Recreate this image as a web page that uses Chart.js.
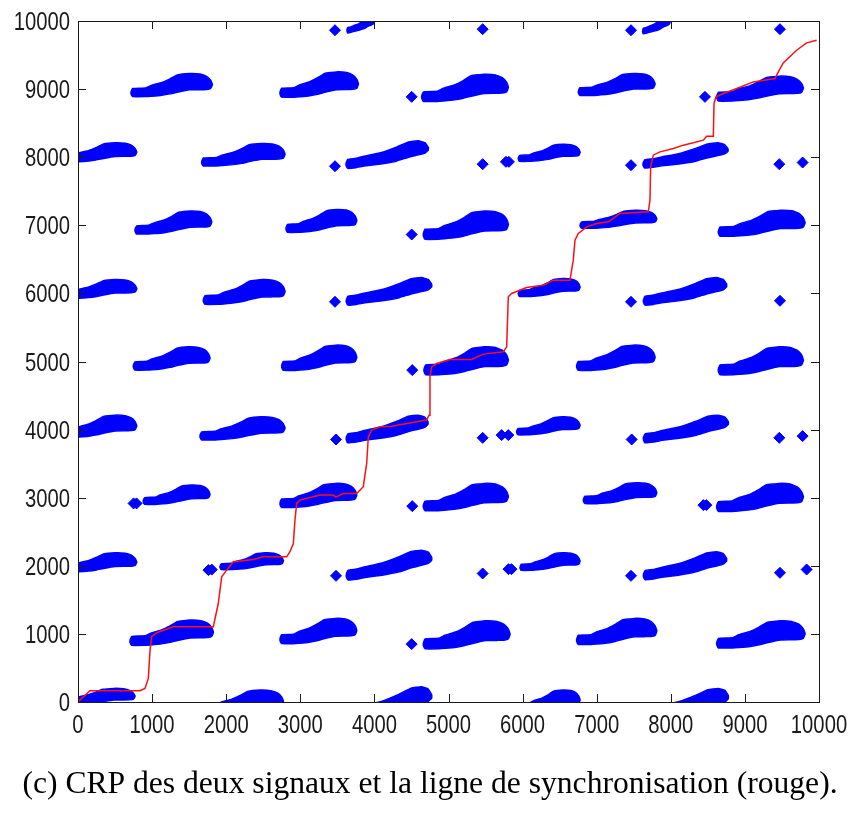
<!DOCTYPE html>
<html>
<head>
<meta charset="utf-8">
<title>CRP et ligne de synchronisation</title>
<script src="https://cdn.jsdelivr.net/npm/chart.js@4.4.1/dist/chart.umd.min.js"></script>
<style>
  html, body { margin: 0; padding: 0; background: #fff; }
  #wrap { width: 853px; height: 820px; }
</style>
</head>
<body>
<div id="wrap"><canvas id="crpChart"></canvas></div>
<script>
// tick values, same on both axes
const tickValues = [0, 1000, 2000, 3000, 4000, 5000, 6000, 7000, 8000, 9000, 10000];

// streak shapes: position along the streak (0..1), upper and lower edge
// as a fraction of the streak's rise above its starting value
// "hump": rises, peaks around 3/4 and tapers off
const humpT     = [0,     0.02,  0.18, 0.25,  0.38,  0.48,  0.57, 0.72, 0.85, 0.93, 0.98, 1.0];
const humpUpper = [0.05,  0.22,  0.25, 0.38,  0.53,  0.72,  0.93, 1.0,  0.97, 0.85, 0.65, 0.45];
const humpLower = [-0.05, -0.2,  -0.2, -0.18, -0.13, -0.06, 0.03, 0.15, 0.16, 0.17, 0.22, 0.4];
// "ramp": keeps rising and ends blunt
const rampT     = [0,     0.02,  0.12,  0.22,  0.42, 0.62, 0.76, 0.88, 0.96, 1.0];
const rampUpper = [0.05,  0.2,   0.25,  0.34,  0.49, 0.74, 0.95, 1.0,  0.92, 0.72];
const rampLower = [-0.05, -0.18, -0.15, -0.08, 0.01, 0.14, 0.3,  0.4,  0.48, 0.6];

// streaks of each band: [xStart, yStart, xEnd, yTop, shape]
const row0 = [[-250, 0, 769, 201, 'h'], [1650, -110, 2771, 176, 'h'], [3620, -190, 4773, 225, 'r'], [5942, -75, 6775, 176, 'h'], [7630, -178, 8776, 201, 'r']];
const row1000 = [[702, 895, 1826, 1204, 'h'], [2726, 920, 3761, 1229, 'h'], [4660, 851, 5830, 1194, 'h'], [6729, 910, 7810, 1229, 'h'], [8619, 861, 9811, 1194, 'h']];
const row2000 = [[-250, 1955, 792, 2192, 'h'], [1916, 1986, 2771, 2192, 'h'], [3620, 1860, 4773, 2231, 'r'], [5965, 1977, 6775, 2192, 'h'], [7630, 1860, 8753, 2207, 'r']];
const row3000 = [[880, 2950, 1781, 3186, 'h'], [2726, 2917, 3761, 3211, 'h'], [4660, 2877, 5807, 3211, 'h'], [6820, 2965, 7810, 3221, 'h'], [8619, 2868, 9788, 3211, 'h']];
const row4000 = [[-250, 3940, 792, 4213, 'h'], [1646, 3905, 2793, 4188, 'h'], [3620, 3870, 4723, 4213, 'r'], [5920, 3968, 6775, 4188, 'h'], [7630, 3870, 8776, 4213, 'r']];
const row5000 = [[746, 4932, 1781, 5216, 'h'], [2749, 4932, 3761, 5241, 'h'], [4669, 4874, 5807, 5216, 'h'], [6729, 4932, 7787, 5241, 'h'], [8641, 4874, 9788, 5216, 'h']];
const row6000 = [[-250, 5970, 792, 6204, 'h'], [1691, 5901, 2793, 6204, 'h'], [3620, 5890, 4773, 6233, 'r'], [5942, 5999, 6775, 6219, 'h'], [7630, 5890, 8753, 6233, 'r']];
const row7000 = [[769, 6929, 1804, 7211, 'h'], [2807, 6953, 3761, 7232, 'h'], [4660, 6865, 5807, 7211, 'h'], [6775, 7002, 7810, 7222, 'h'], [8641, 6904, 9811, 7222, 'h']];
const row8000 = [[-250, 7975, 792, 8211, 'h'], [1669, 7927, 2793, 8202, 'h'], [3617, 7898, 4727, 8240, 'r'], [5942, 7981, 6775, 8191, 'h'], [7625, 7898, 8772, 8211, 'r']];
const row9000 = [[715, 8947, 1812, 9229, 'h'], [2726, 8944, 3783, 9253, 'h'], [4638, 8886, 5807, 9219, 'h'], [6752, 8960, 7787, 9229, 'h'], [8619, 8886, 9788, 9190, 'h']];
const row10000 = [[3630, 9860, 4000, 10060, 'r'], [7620, 9850, 7990, 10060, 'r']];

// isolated recurrence points
const diamondX = [4503, 8461, 3468, 5461, 7463, 9473,
  3468, 5461, 5775, 5815, 7463, 9464, 9779,
  4503, 3468, 7463, 9473, 4511,
  3482, 5461, 5717, 5807, 7472, 9464, 9779,
  750, 790, 4511, 8440, 8480,
  1760, 1805, 3482, 5461, 5810, 5850, 7463, 9473, 9833,
  4503];
const diamondY = [8886, 8886, 9865, 9880, 9865, 9880,
  7868, 7898, 7932, 7932, 7883, 7898, 7922,
  6865, 5877, 5877, 5892, 4874,
  3856, 3880, 3920, 3920, 3856, 3880, 3905,
  2917, 2917, 2877, 2892, 2892,
  1938, 1945, 1854, 1888, 1952, 1952, 1854, 1898, 1947,
  851];

// synchronisation path (red)
const syncX = [0, 162, 837, 904, 949, 972, 994, 1061, 1286, 1826, 1893, 1939, 2006, 2096, 2366, 2501, 2816, 2861,
  2906, 2928, 2951, 2996, 3266, 3445, 3482, 3580, 3761, 3850, 3896, 3918, 3963, 4075, 4233, 4570, 4705, 4737,
  4750, 4773, 4840, 5020, 5313, 5470, 5740, 5785, 5807, 5852, 6054, 6279, 6414, 6639, 6684, 6707, 6752, 6865,
  6999, 7157, 7314, 7696, 7719, 7728, 7764, 7854, 8034, 8169, 8304, 8439, 8484, 8574, 8583, 8610, 8709, 8889,
  9113, 9406, 9451, 9518, 9698, 9833, 9968];
const syncY = [4, 166, 166, 201, 348, 763, 959, 1018, 1106, 1106, 1447, 1839, 1938, 2060, 2094, 2133, 2133, 2207,
  2329, 2672, 2917, 2965, 3039, 3039, 3010, 3063, 3063, 3162, 3504, 3895, 3993, 4041, 4051, 4115, 4140, 4213,
  4775, 4922, 4971, 5030, 5030, 5109, 5142, 5216, 5950, 5999, 6087, 6121, 6195, 6195, 6489, 6782, 6880, 6978,
  7027, 7051, 7174, 7198, 7369, 7858, 8030, 8079, 8128, 8177, 8211, 8250, 8309, 8309, 8789, 8886, 8935, 9008,
  9106, 9155, 9253, 9385, 9571, 9679, 9718];

const BLUE = 'rgb(0, 0, 255)';

// outline of one streak: along the upper edge, back along the lower edge
function streakOutline(s) {
  const [x0, y0, x1, top, kind] = s;
  const T = kind === 'r' ? rampT : humpT;
  const U = kind === 'r' ? rampUpper : humpUpper;
  const L = kind === 'r' ? rampLower : humpLower;
  const rise = top - y0;
  const upper = T.map((t, i) => ({ x: x0 + t * (x1 - x0), y: y0 + U[i] * rise }));
  const lower = T.map((t, i) => ({ x: x0 + t * (x1 - x0), y: y0 + L[i] * rise })).reverse();
  return upper.concat(lower, [upper[0]]);
}

const allStreaks = [].concat(row0, row1000, row2000, row3000, row4000, row5000,
  row6000, row7000, row8000, row9000, row10000);

const datasets = [];

// red line first so it is painted on top
datasets.push({
  data: syncX.map((x, i) => ({ x: x, y: syncY[i] })),
  borderColor: '#ff1010',
  borderWidth: 1.5,
  pointRadius: 0,
  fill: false,
  tension: 0
});

datasets.push({
  data: diamondX.map((x, i) => ({ x: x, y: diamondY[i] })),
  showLine: false,
  pointStyle: 'rectRot',
  pointRadius: 5.5,
  backgroundColor: BLUE,
  borderColor: BLUE,
  borderWidth: 1
});

allStreaks.forEach(s => {
  datasets.push({
    data: streakOutline(s),
    borderColor: BLUE,
    backgroundColor: BLUE,
    borderWidth: 1.5,
    pointRadius: 0,
    fill: 'shape',
    tension: 0.1
  });
});

// box round the plot, inward tick marks on all four sides, and the
// tick numbers in a narrow face (the regular sans squeezed horizontally)
const boxTicks = {
  id: 'boxTicks',
  afterDraw(chart) {
    const { ctx, chartArea: a, scales: { x, y } } = chart;
    ctx.save();
    ctx.strokeStyle = '#1a1a1a';
    ctx.lineWidth = 1;
    ctx.strokeRect(Math.round(a.left) + 0.5, Math.round(a.top) + 0.5,
      Math.round(a.right - a.left), Math.round(a.bottom - a.top));
    ctx.beginPath();
    tickValues.forEach(v => {
      const px = Math.round(x.getPixelForValue(v)) + 0.5;
      ctx.moveTo(px, a.bottom); ctx.lineTo(px, a.bottom - 8);
      ctx.moveTo(px, a.top); ctx.lineTo(px, a.top + 8);
      const py = Math.round(y.getPixelForValue(v)) + 0.5;
      ctx.moveTo(a.left, py); ctx.lineTo(a.left + 8, py);
      ctx.moveTo(a.right, py); ctx.lineTo(a.right - 8, py);
    });
    ctx.stroke();

    ctx.fillStyle = '#1a1a1a';
    ctx.font = "25px 'Liberation Sans', Arial, sans-serif";
    ctx.textBaseline = 'alphabetic';
    const squeeze = 0.81;
    tickValues.forEach(v => {
      const label = String(v);
      // x axis: centred under the tick
      ctx.save();
      ctx.translate(x.getPixelForValue(v), a.bottom + 31);
      ctx.scale(squeeze, 1);
      ctx.textAlign = 'center';
      ctx.fillText(label, 0, 0);
      ctx.restore();
      // y axis: right-aligned left of the box
      ctx.save();
      ctx.translate(a.left - 8, y.getPixelForValue(v) + 9);
      ctx.scale(squeeze, 1);
      ctx.textAlign = 'right';
      ctx.fillText(label, 0, 0);
      ctx.restore();
    });
    ctx.restore();
  }
};

new Chart(document.getElementById('crpChart'), {
  type: 'line',
  data: { datasets: datasets },
  options: {
    responsive: true,
    maintainAspectRatio: false,
    animation: false,
    events: [],
    layout: { padding: { top: 21, right: 0, left: 7, bottom: 0 } },
    scales: {
      x: {
        type: 'linear',
        min: 0,
        max: 10000,
        afterFit: s => { s.height = 55; },
        grid: { display: false },
        border: { display: false },
        ticks: { display: false }
      },
      y: {
        type: 'linear',
        min: 0,
        max: 10000,
        afterFit: s => { s.width = 71; },
        grid: { display: false },
        border: { display: false },
        ticks: { display: false }
      },
      // empty right-hand axis, only reserves the margin right of the box
      yRight: {
        type: 'linear',
        position: 'right',
        min: 0,
        max: 10000,
        afterFit: s => { s.width = 34; },
        grid: { display: false },
        border: { display: false },
        ticks: { display: false }
      }
    },
    plugins: {
      legend: { display: false },
      tooltip: { enabled: false },
      title: {
        display: true,
        position: 'bottom',
        text: '(c) CRP des deux signaux et la ligne de synchronisation (rouge).',
        color: '#000',
        font: { family: "'Liberation Serif', 'Times New Roman', serif", size: 31.6, weight: 'normal' },
        padding: { top: 9, bottom: 16 }
      }
    }
  },
  plugins: [boxTicks]
});
</script>
</body>
</html>
